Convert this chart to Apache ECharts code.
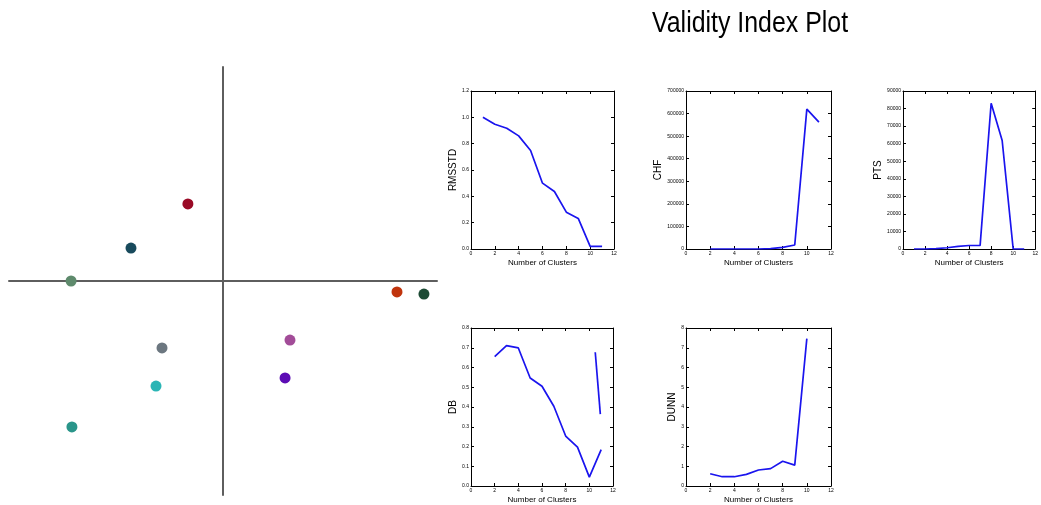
<!DOCTYPE html>
<html>
<head>
<meta charset="utf-8">
<script src="https://cdn.jsdelivr.net/npm/echarts@6/dist/echarts.min.js"></script>
<style>
  html, body { margin: 0; padding: 0; background: #fff; }
  #main { width: 1041px; height: 505px; }
</style>
</head>
<body>
<div id="main"></div>
<script>
// 左侧散点
var dotPoints = [[-16.4, 36.0], [-43.0, 15.4], [-71.0, 0], [-28.5, -31.3], [-31.3, -49.1],
                 [-70.6, -68.2], [31.3, -27.6], [29.0, -45.3], [81.3, -5.1], [93.9, -6.1]];
var dotColors = ['#9a0a26', '#184a5c', '#5e8a6c', '#6c7780', '#2ab5b5',
                 '#2a958a', '#a24c98', '#5c0cb4', '#c0340c', '#1c4a34'];

// validity indices
var rmsstdX = [1, 2, 3, 4, 5, 6, 7, 8, 9, 10, 11];
var rmsstdY = [1.0, 0.947, 0.917, 0.859, 0.748, 0.50, 0.437, 0.28, 0.232, 0.02, 0.02];
var chfX = [2, 3, 4, 5, 6, 7, 8, 9, 10, 11];
var chfY = [0, 0, 0, 0, 0, 2000, 7400, 17700, 620000, 562000];
var ptsX = [1, 2, 3, 4, 5, 6, 7, 8, 9, 10, 11];
var ptsY = [0, 0, 200, 700, 1500, 2000, 2100, 83000, 61800, 0, 0];
var dbX = [2, 3, 4, 5, 6, 7, 8, 9, 10, 11];
var dbY = [0.655, 0.711, 0.699, 0.547, 0.505, 0.404, 0.253, 0.197, 0.045, 0.184];
var dbX2 = [10.5, 10.93];
var dbY2 = [0.677, 0.364];
var dunnX = [2, 3, 4, 5, 6, 7, 8, 9, 10];
var dunnY = [0.62, 0.47, 0.47, 0.59, 0.81, 0.88, 1.25, 1.06, 7.46];
var xLabel = 'Number of Clusters';

function pairs(xs, ys) {
    var out = [];
    for (var i = 0; i < xs.length; i++) out.push([xs[i], ys[i]]);
    return out;
}

var FONT = 'Liberation Sans';
var myChart = echarts.init(document.getElementById('main'));

var grids = [
    { left: 9, top: 67, width: 428, height: 428 },
    { left: 471, top: 91, width: 143, height: 158 },
    { left: 686, top: 91, width: 145, height: 158 },
    { left: 903, top: 91, width: 144, height: 158 },
    { left: 471, top: 328, width: 142, height: 158 },
    { left: 686, top: 328, width: 145, height: 158 }
];

var xAxes = [{
    gridIndex: 0, type: 'value', min: -100, max: 100,
    axisLine: { onZero: true, lineStyle: { color: '#5e5e5e', width: 2 } },
    axisTick: { show: false }, axisLabel: { show: false }, splitLine: { show: false }
}];
var yAxes = [{
    gridIndex: 0, type: 'value', min: -100, max: 100,
    axisLine: { onZero: true, lineStyle: { color: '#5e5e5e', width: 2 } },
    axisTick: { show: false }, axisLabel: { show: false }, splitLine: { show: false }
}];
var series = [{
    type: 'scatter', xAxisIndex: 0, yAxisIndex: 0,
    symbolSize: 11,
    data: dotPoints.map(function(p, i) {
        return { value: p, itemStyle: { color: dotColors[i], opacity: 1 } };
    })
}];

var lineBlack = { color: '#000', width: 1 };
function panel(gi, yName, yMax, yStep, fmt, gap) {
    var tick = { show: true, inside: true, length: 3, lineStyle: lineBlack };
    var lab = { fontSize: 5, color: '#000', fontFamily: FONT, margin: 2 };
    xAxes.push({
        gridIndex: gi, type: 'value', min: 0, max: 12, interval: 2, position: 'bottom',
        name: xLabel, nameLocation: 'middle', nameGap: 10,
        nameTextStyle: { fontSize: 8, color: '#000', fontFamily: FONT },
        axisLine: { onZero: false, lineStyle: lineBlack }, axisTick: tick,
        axisLabel: lab, splitLine: { show: false }
    });
    xAxes.push({
        gridIndex: gi, type: 'value', min: 0, max: 12, interval: 2, position: 'top',
        axisLine: { onZero: false, lineStyle: lineBlack }, axisTick: tick,
        axisLabel: { show: false }, splitLine: { show: false }
    });
    yAxes.push({
        gridIndex: gi, type: 'value', min: 0, max: yMax, interval: yStep, position: 'left',
        name: yName, nameLocation: 'middle', nameGap: gap,
        nameTextStyle: { fontSize: 10, color: '#000', fontFamily: FONT },
        axisLine: { onZero: false, lineStyle: lineBlack }, axisTick: tick,
        axisLabel: Object.assign({ formatter: fmt }, lab), splitLine: { show: false }
    });
    yAxes.push({
        gridIndex: gi, type: 'value', min: 0, max: yMax, interval: yStep, position: 'right',
        axisLine: { onZero: false, lineStyle: lineBlack }, axisTick: tick,
        axisLabel: { show: false }, splitLine: { show: false }
    });
    return xAxes.length - 2; // 底部x轴的索引
}
function addLine(axisIdx, data) {
    series.push({
        type: 'line', xAxisIndex: axisIdx, yAxisIndex: axisIdx,
        data: data, showSymbol: false, animation: false,
        lineStyle: { color: '#1a14ee', width: 1.7 }
    });
}
function fix1(v) { return v.toFixed(1); }
function plain(v) { return String(v); }

var a1 = panel(1, 'RMSSTD', 1.2, 0.2, fix1, 11);
addLine(a1, pairs(rmsstdX, rmsstdY));
var a2 = panel(2, 'CHF', 700000, 100000, plain, 19);
addLine(a2, pairs(chfX, chfY));
var a3 = panel(3, 'PTS', 90000, 10000, plain, 18);
addLine(a3, pairs(ptsX, ptsY));
var a4 = panel(4, 'DB', 0.8, 0.1, fix1, 11);
addLine(a4, pairs(dbX, dbY));
addLine(a4, pairs(dbX2, dbY2));
var a5 = panel(5, 'DUNN', 8, 1, plain, 7);
addLine(a5, pairs(dunnX, dunnY));

var option = {
    backgroundColor: '#fff',
    animation: false,
    grid: grids,
    xAxis: xAxes,
    yAxis: yAxes,
    series: series,
    graphic: [{
        type: 'text', x: 652, y: 9, scaleX: 0.83,
        style: { text: 'Validity Index Plot', fontSize: 30, fontFamily: FONT, fill: '#000', align: 'left', verticalAlign: 'top' }
    }]
};
myChart.setOption(option);
</script>
</body>
</html>
